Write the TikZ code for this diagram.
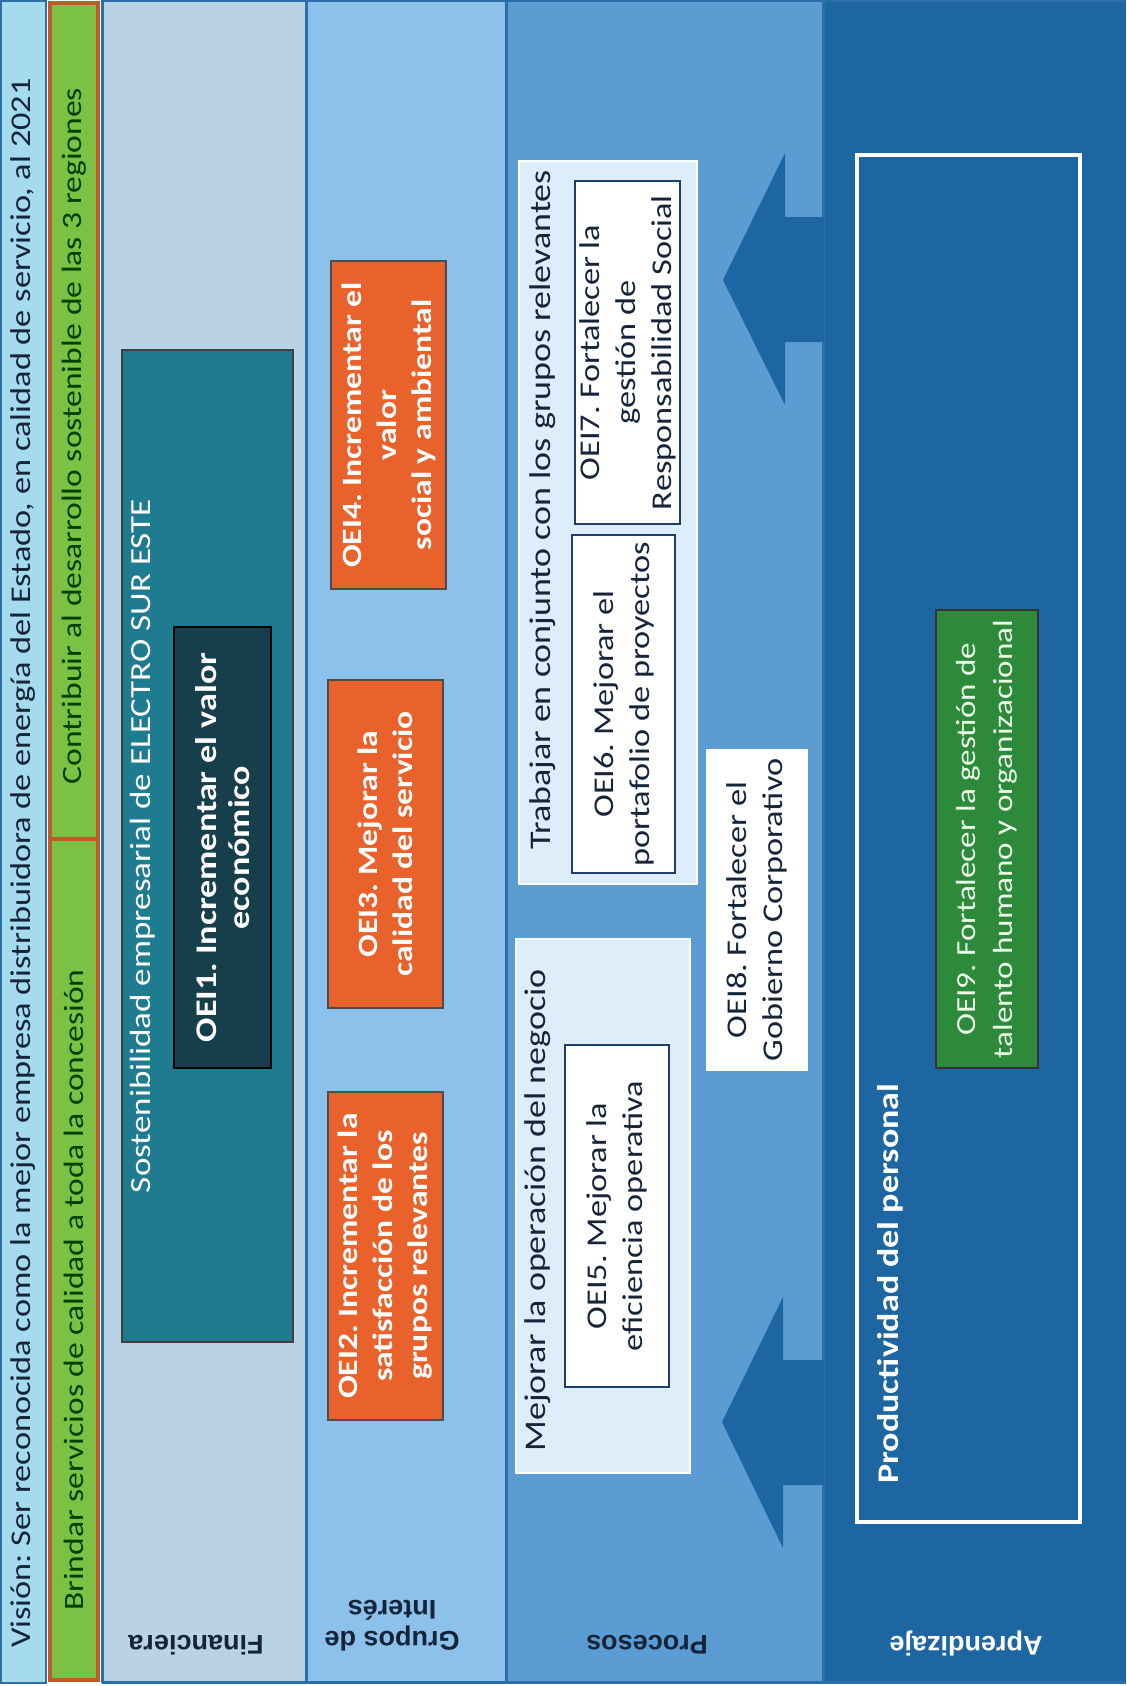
\documentclass[tikz,border=0pt]{standalone}
\usepackage{fontspec}
\setmainfont{Carlito}[FakeStretch=1.2]
\newfontfamily\labelfont{Liberation Sans}

\definecolor{visioncol}{HTML}{A5DBEF}
\definecolor{greencol}{HTML}{7BC143}
\definecolor{greenline}{HTML}{BF5A2A}
\definecolor{fincol}{HTML}{BAD2E6}
\definecolor{gruposcol}{HTML}{8BC1EA}
\definecolor{procol}{HTML}{5B9DD3}
\definecolor{aprcol}{HTML}{1D66A2}
\definecolor{sepcol}{HTML}{2C6FA8}
\definecolor{sostcol}{HTML}{1F7B8F}
\definecolor{oeionecol}{HTML}{163F4B}
\definecolor{orangecol}{HTML}{E9622B}
\definecolor{lightcol}{HTML}{DDEEFA}
\definecolor{navyline}{HTML}{1F3F66}
\definecolor{talentcol}{HTML}{2E8A3B}
\definecolor{textdark}{HTML}{16243A}

\tikzset{
	objbox/.style={rectangle, rotate=90, align=center, inner sep=0pt},
	orangebox/.style={objbox, fill=orangecol, draw=black!70, line width=0.8pt,
		text=white, font=\fontsize{14}{17.5}\selectfont\bfseries},
	whitebox/.style={objbox, fill=white, draw=navyline, line width=1pt,
		text=textdark, font=\fontsize{14.3}{18}\selectfont},
	groupbox/.style={objbox, fill=lightcol, draw=white, line width=0.8pt},
	bandtext/.style={rotate=90, inner sep=0pt, font=\fontsize{14}{16}\selectfont},
	titletext/.style={rotate=90, inner sep=0pt, font=\fontsize{15}{18}\selectfont},
	perspective/.style={rotate=180, align=center, inner sep=0pt,
		font=\labelfont\fontsize{13.5}{15.5}\selectfont\bfseries},
}

\begin{document}
\frenchspacing
\begin{tikzpicture}[x=0.5pt, y=-0.5pt]

% canvas %{{{1

	\fill[white] (0,0) rectangle (1126,1686);
	\useasboundingbox (0,0) rectangle (1126,1686);

% columns %{{{1

	\fill[visioncol] (0,0) rectangle (46,1683);
	\fill[fincol]    (102,0) rectangle (306,1683);
	\fill[gruposcol] (306,0) rectangle (506,1683);
	\fill[procol]    (506,0) rectangle (823,1683);
	\fill[aprcol]    (823,0) rectangle (1126,1683);

	\draw[sepcol, line width=0.8pt] (1,1) rectangle (46,1683);
	\foreach \xs in {102,306,506,823}
		\draw[sepcol, line width=1.5pt] (\xs,0) -- (\xs,1683);
	\draw[sepcol, line width=1.5pt] (102,1) -- (1126,1);
	\draw[sepcol, line width=1.5pt] (102,1682) -- (1126,1682);

% mission bands %{{{1

	\draw[fill=greencol, draw=greenline, line width=2pt] (50,3) rectangle (98,839);
	\draw[fill=greencol, draw=greenline, line width=2pt] (50,839) rectangle (98,1680);

% arrows %{{{1

	\fill[aprcol] (824,217) -- (785,217) -- (785,153) -- (723,280)
		-- (785,405) -- (785,342) -- (824,342) -- cycle;
	\fill[aprcol] (824,1360) -- (783,1360) -- (783,1297) -- (722,1422)
		-- (783,1548) -- (783,1485) -- (824,1485) -- cycle;

% vision and missions %{{{1

	\node[bandtext, text=textdark, font=\fontsize{14.3}{16}\selectfont] (vision) at (23,863)
		{Visión: Ser reconocida como la mejor empresa distribuidora de energía del Estado, en calidad de servicio, al 2021};
	\node[bandtext, text=green!25!black] (brindar) at (74,1290)
		{Brindar servicios de calidad a toda la concesión};
	\node[bandtext, text=green!25!black] (contribuir) at (74,436)
		{Contribuir al desarrollo sostenible de las 3 regiones};

% financiera %{{{1

	\node[objbox, fill=sostcol, draw=black!75, line width=1pt,
		minimum width=496pt, minimum height=85.5pt] (sost) at (207.5,846) {};
	\node[titletext, text=white, font=\fontsize{14.6}{18}\selectfont] (sosttitle) at (143,846)
		{Sostenibilidad empresarial de ELECTRO SUR ESTE};
	\node[objbox, fill=oeionecol, draw=black, line width=1pt, text=white,
		font=\fontsize{15}{16.5}\selectfont\bfseries,
		minimum width=220.5pt, minimum height=48.5pt] (oei1) at (222.5,847.5)
		{OEI1. Incrementar el valor\\ económico};

% grupos de interes %{{{1

	\node[orangebox, minimum width=164pt, minimum height=57.5pt] (oei2) at (385.5,1256)
		{OEI2. Incrementar la\\satisfacción de los\\grupos relevantes};
	\node[orangebox, minimum width=164pt, minimum height=57.5pt] (oei3) at (385.5,844)
		{OEI3. Mejorar la\\calidad del servicio};
	\node[orangebox, minimum width=164pt, minimum height=57.5pt] (oei4) at (388.5,425)
		{OEI4. Incrementar el\\valor\\social y ambiental};

% procesos %{{{1

	\node[groupbox, minimum width=267pt, minimum height=87pt] (mejorar) at (603,1206) {};
	\node[titletext, text=textdark, anchor=west] (mejorartitle) at (538,1452)
		{Mejorar la operación del negocio};
	\node[whitebox, minimum width=171pt, minimum height=52pt] (oei5) at (617,1216)
		{OEI5. Mejorar la\\eficiencia operativa};

	\node[groupbox, minimum width=361.5pt, minimum height=89pt] (trabajar) at (608,522.5) {};
	\node[titletext, text=textdark] (trabajartitle) at (543,510)
		{Trabajar en conjunto con los grupos relevantes};
	\node[whitebox, minimum width=169pt, minimum height=51.5pt] (oei6) at (623.5,704)
		{OEI6. Mejorar el\\portafolio de proyectos};
	\node[whitebox, minimum width=171.5pt, minimum height=52.5pt] (oei7) at (627.5,352.5)
		{OEI7. Fortalecer la\\gestión de\\Responsabilidad Social};

	\node[whitebox, draw=white, minimum width=160pt, minimum height=50pt] (oei8) at (757,910)
		{OEI8. Fortalecer el\\Gobierno Corporativo};

% aprendizaje %{{{1

	\node[objbox, draw=white, line width=2pt,
		minimum width=683.5pt, minimum height=111.5pt] (personal) at (968.5,838.5) {};
	\node[titletext, text=white, anchor=west, font=\fontsize{15}{18}\selectfont\bfseries]
		(personaltitle) at (890,1484) {Productividad del personal};
	\node[objbox, fill=talentcol, draw=black!80, line width=1pt, text=green!8!white,
		font=\fontsize{13.8}{18.5}\selectfont,
		minimum width=229pt, minimum height=51pt] (oei9) at (987,839)
		{OEI9. Fortalecer la gestión de\\talento humano y organizacional};

% perspective labels %{{{1

	\node[perspective, text=textdark] (financiera) at (196,1645) {Financiera};
	\node[perspective, text=textdark] (grupos) at (392,1626) {Grupos de\\Interés};
	\node[perspective, text=textdark] (procesos) at (647,1645) {Procesos};
	\node[perspective, text=white] (aprendizaje) at (966,1643) {Aprendizaje};

% closing %{{{1

\end{tikzpicture}
\end{document}
